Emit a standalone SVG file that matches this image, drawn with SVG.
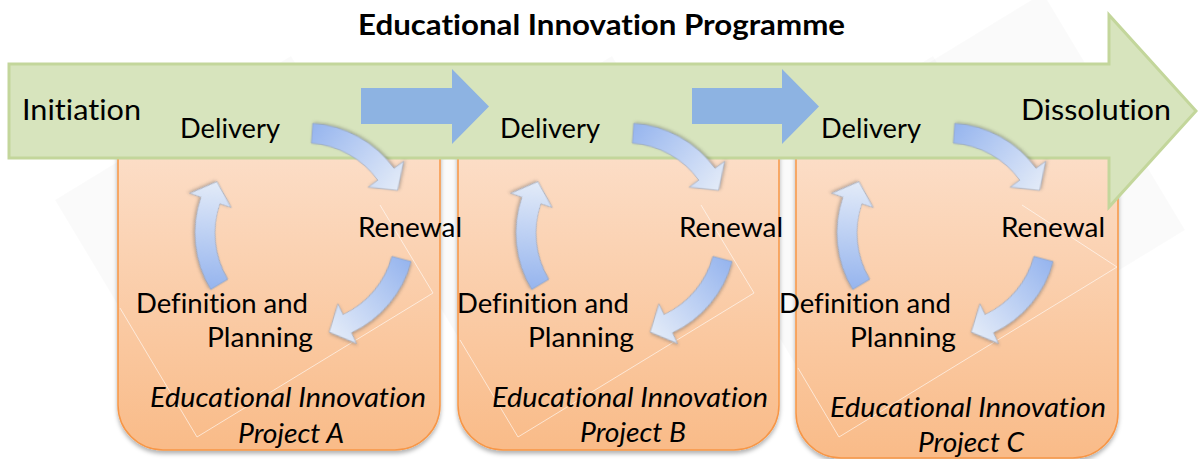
<svg xmlns="http://www.w3.org/2000/svg" xmlns:xlink="http://www.w3.org/1999/xlink" width="1198" height="459" viewBox="0 0 1198 459">
<defs>
<style>
.t{font-family:Lato,"Open Sans","Liberation Sans",sans-serif;font-size:27px;fill:#000;font-variant-ligatures:none;font-feature-settings:"liga" 0,"clig" 0}
.big{font-size:29px}
.title{font-size:28px;font-weight:bold}
.it{font-style:italic}
.box{fill:url(#og);stroke:#f79646;stroke-width:1.5;filter:url(#bs)}
.sq{fill:#000;fill-opacity:0.018;stroke:none}
.sql{fill:none;stroke:#fff;stroke-width:1;stroke-opacity:0.6}
.blue{fill:#8db3e2}
.curve{fill:url(#cg);stroke:#8e9ab0;stroke-width:0.8;stroke-opacity:0.7;filter:url(#cs)}
</style>
<linearGradient id="og" x1="0" y1="0" x2="0" y2="1">
<stop offset="0" stop-color="#fcdfca"/>
<stop offset="1" stop-color="#f9bb88"/>
</linearGradient>
<linearGradient id="cg" gradientUnits="userSpaceOnUse" x1="110" y1="0" x2="50" y2="90">
<stop offset="0" stop-color="#95b4ee"/>
<stop offset="1" stop-color="#e3ebf8"/>
</linearGradient>
<filter id="bs" x="-10%" y="-10%" width="120%" height="120%">
<feDropShadow dx="0" dy="3" stdDeviation="2" flood-color="#000" flood-opacity="0.3"/>
</filter>
<filter id="cs" x="-30%" y="-30%" width="160%" height="160%">
<feDropShadow dx="1" dy="1.5" stdDeviation="1.5" flood-color="#404040" flood-opacity="0.35"/>
</filter>
<path id="ca" d="M90,0 L110,0 A110,110 0 0 1 70.71,84.26 L78.42,93.45 L48.96,89.46 L50.14,59.75 L57.85,68.94 A90,90 0 0 0 90,0 Z"/>
</defs>

<g id="background-planes">
<polygon class="sq" points="291,56 433,293 197,437 55,200"/>
<polygon class="sq" points="612,56 754,293 518,437 376,200"/>
<polygon class="sq" points="933,56 1075,293 839,437 697,200"/>
<polygon class="sq" points="1043,-7 1185,230 949,374 807,137"/>
</g>

<g id="project-a">
<path class="box" d="M118,140 H440 V405 A45,45 0 0 1 395,450 H163 A45,45 0 0 1 118,405 Z"/>
</g>
<g id="project-b">
<path class="box" d="M458,140 H779 V405 A45,45 0 0 1 734,450 H503 A45,45 0 0 1 458,405 Z"/>
</g>
<g id="project-c">
<path class="box" d="M796,140 H1118 V413 A45,45 0 0 1 1073,458 H841 A45,45 0 0 1 796,413 Z"/>
</g>

<g id="plane-lines">
<polyline class="sql" points="380,205 433,293 197,437 120,308"/>
<polyline class="sql" points="701,205 754,293 518,437 460,340"/>
<polyline class="sql" points="1022,205 1117,267"/>
<polyline class="sql" points="1117,267 839,437 798,368"/>
</g>

<g id="programme">
<path d="M9,64 H1109 V15 L1196,111 L1109,207 V158 H9 Z" fill="#d7e4bd" stroke="#c3d69b" stroke-width="3"/>
<text class="t title" x="358" y="35" textLength="487" lengthAdjust="spacingAndGlyphs">Educational Innovation Programme</text>
<text class="t big" x="22" y="120" textLength="119" lengthAdjust="spacingAndGlyphs">Initiation</text>
<text class="t big" x="1021" y="120" textLength="150" lengthAdjust="spacingAndGlyphs">Dissolution</text>
</g>

<g id="connectors">
<path class="blue" d="M361,88 H452 V69 L489,106.5 L452,144 V124 H361 Z"/>
<path class="blue" d="M692,88 H782 V69 L819,106.5 L782,144 V124 H692 Z"/>
<use class="curve" href="#ca" xlink:href="#ca" transform="translate(305,233) rotate(-86)"/>
<use class="curve" href="#ca" xlink:href="#ca" transform="translate(305,233) rotate(15)"/>
<use class="curve" href="#ca" xlink:href="#ca" transform="translate(305,233) rotate(149)"/>
<use class="curve" href="#ca" xlink:href="#ca" transform="translate(626,233) rotate(-86)"/>
<use class="curve" href="#ca" xlink:href="#ca" transform="translate(626,233) rotate(15)"/>
<use class="curve" href="#ca" xlink:href="#ca" transform="translate(626,233) rotate(149)"/>
<use class="curve" href="#ca" xlink:href="#ca" transform="translate(947,233) rotate(-86)"/>
<use class="curve" href="#ca" xlink:href="#ca" transform="translate(947,233) rotate(15)"/>
<use class="curve" href="#ca" xlink:href="#ca" transform="translate(947,233) rotate(149)"/>
</g>

<g id="labels-a">
<text class="t" x="180" y="138" textLength="100" lengthAdjust="spacingAndGlyphs">Delivery</text>
<text class="t" x="358" y="237" textLength="104" lengthAdjust="spacingAndGlyphs">Renewal</text>
<text class="t" x="136" y="313" textLength="172" lengthAdjust="spacingAndGlyphs">Definition and</text>
<text class="t" x="207" y="347" textLength="106" lengthAdjust="spacingAndGlyphs">Planning</text>
<text class="t it" x="150" y="407" textLength="276" lengthAdjust="spacingAndGlyphs">Educational Innovation</text>
<text class="t it" x="238" y="443" textLength="106" lengthAdjust="spacingAndGlyphs">Project A</text>
</g>
<g id="labels-b">
<text class="t" x="500" y="138" textLength="100" lengthAdjust="spacingAndGlyphs">Delivery</text>
<text class="t" x="679" y="237" textLength="104" lengthAdjust="spacingAndGlyphs">Renewal</text>
<text class="t" x="457" y="313" textLength="172" lengthAdjust="spacingAndGlyphs">Definition and</text>
<text class="t" x="528" y="347" textLength="106" lengthAdjust="spacingAndGlyphs">Planning</text>
<text class="t it" x="492" y="407" textLength="276" lengthAdjust="spacingAndGlyphs">Educational Innovation</text>
<text class="t it" x="580" y="442" textLength="106" lengthAdjust="spacingAndGlyphs">Project B</text>
</g>
<g id="labels-c">
<text class="t" x="821" y="138" textLength="100" lengthAdjust="spacingAndGlyphs">Delivery</text>
<text class="t" x="1001" y="237" textLength="104" lengthAdjust="spacingAndGlyphs">Renewal</text>
<text class="t" x="779" y="313" textLength="172" lengthAdjust="spacingAndGlyphs">Definition and</text>
<text class="t" x="850" y="347" textLength="106" lengthAdjust="spacingAndGlyphs">Planning</text>
<text class="t it" x="830" y="417" textLength="276" lengthAdjust="spacingAndGlyphs">Educational Innovation</text>
<text class="t it" x="918" y="452" textLength="106" lengthAdjust="spacingAndGlyphs">Project C</text>
</g>
</svg>
